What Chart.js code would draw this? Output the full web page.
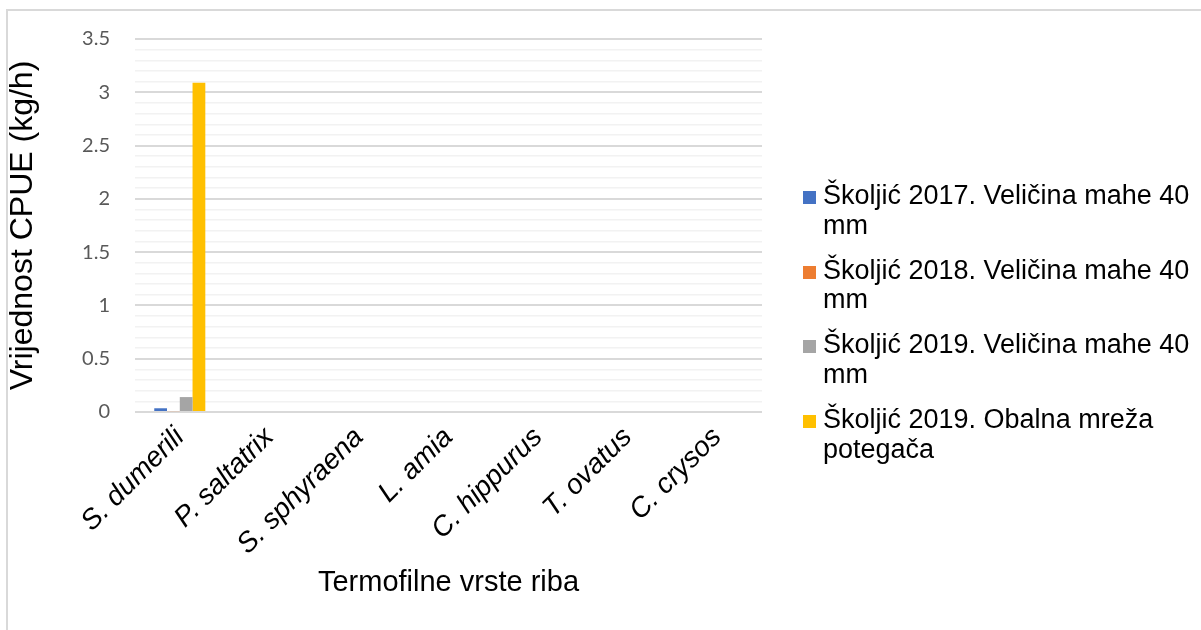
<!DOCTYPE html>
<html lang="hr">
<head>
<meta charset="utf-8">
<title>CPUE termofilnih vrsta</title>
<script src="https://cdn.jsdelivr.net/npm/chart.js@4.4.1/dist/chart.umd.min.js"></script>
<style>
    html, body { margin: 0; padding: 0; background: #fff; }
    #okvir {
        position: relative;
        width: 1201px;
        height: 630px;
        overflow: hidden;
    }
    #rub {
        position: absolute;
        left: 6px;
        top: 9px;
        width: 1300px;
        height: 700px;
        border-left: 2px solid #d9d9d9;
        border-top: 2px solid #d9d9d9;
        pointer-events: none;
    }
    #graf { position: absolute; left: 0; top: 0; }
    #legenda {
        position: absolute;
        left: 803px;
        top: 181px;
        width: 392px;
        font-family: "Liberation Sans", Arial, sans-serif;
        font-size: 27px;
        line-height: 29.5px;
        color: #000;
    }
    .stavka { display: flex; align-items: flex-start; margin-bottom: 15.7px; }
    .kvadrat { width: 13px; height: 13px; margin-top: 10px; margin-right: 7px; flex: none; }
    .tekst { width: 372px; }
</style>
</head>
<body>
<div id="okvir">
    <canvas id="graf" width="1201" height="630"></canvas>
    <div id="legenda"></div>
    <div id="rub"></div>
</div>

<script>
// Termofilne vrste riba i vrijednosti CPUE (kg/h)
const vrste = ['S. dumerili', 'P. saltatrix', 'S. sphyraena', 'L. amia', 'C. hippurus', 'T. ovatus', 'C. crysos'];

const nazivSerija = [
    'Školjić 2017. Veličina mahe 40 mm',
    'Školjić 2018. Veličina mahe 40 mm',
    'Školjić 2019. Veličina mahe 40 mm',
    'Školjić 2019. Obalna mreža potegača'
];

const skoljic2017 = [0.035, 0, 0, 0, 0, 0, 0];
const skoljic2018 = [0.008, 0, 0, 0, 0, 0, 0];
const skoljic2019 = [0.14, 0, 0, 0, 0, 0, 0];
const obalnaMreza2019 = [3.09, 0, 0, 0, 0, 0, 0];

const boje = ['#4472C4', '#ED7D31', '#A5A5A5', '#FFC000'];

// Oznake osi Y (glavne crte svakih 0.5)
const yMin = 0;
const yMax = 3.5;
const yKorak = 0.1;

const vrijednosti = [skoljic2017, skoljic2018, skoljic2019, obalnaMreza2019];

const jeGlavna = v => Math.round(v * 10) % 5 === 0;

const ctx = document.getElementById('graf').getContext('2d');

const graf = new Chart(ctx, {
    type: 'bar',
    data: {
        labels: vrste,
        datasets: vrijednosti.map((d, i) => ({
            label: nazivSerija[i],
            data: d,
            backgroundColor: boje[i],
            borderWidth: 0,
            categoryPercentage: 0.57,
            barPercentage: 1
        }))
    },
    options: {
        responsive: false,
        animation: false,
        layout: { padding: { left: 0, top: 39, right: 439, bottom: 0 } },
        plugins: {
            legend: { display: false },
            tooltip: { enabled: false }
        },
        scales: {
            x: {
                grid: { display: false },
                border: { display: false },
                ticks: {
                    color: '#000',
                    maxRotation: 45,
                    minRotation: 45,
                    padding: 1,
                    font: { family: '"Liberation Sans", Arial, sans-serif', size: 28, style: 'italic' }
                },
                title: {
                    display: true,
                    text: 'Termofilne vrste riba',
                    color: '#000',
                    padding: { top: 0, bottom: 30 },
                    font: { family: '"Liberation Sans", Arial, sans-serif', size: 29 }
                },
                afterFit: s => { s.height = 218; }
            },
            y: {
                min: yMin,
                max: yMax,
                border: { display: false },
                grid: {
                    drawTicks: false,
                    color: c => jeGlavna(c.tick.value) ? '#d9d9d9' : '#f2f2f2',
                    lineWidth: c => jeGlavna(c.tick.value) ? 2 : 1.5
                },
                ticks: {
                    stepSize: yKorak,
                    autoSkip: false,
                    padding: 25,
                    color: '#595959',
                    font: { family: 'Lato, "Open Sans", sans-serif', size: 20 },
                    callback: v => jeGlavna(v) ? String(Math.round(v * 10) / 10) : ''
                },
                title: {
                    display: true,
                    text: 'Vrijednost CPUE (kg/h)',
                    color: '#000',
                    padding: { top: 4, bottom: 0 },
                    font: { family: '"Liberation Sans", Arial, sans-serif', size: 32 }
                },
                afterFit: s => { s.width = 135; }
            }
        }
    }
});

// Legenda s prelamanjem teksta
const legenda = document.getElementById('legenda');
graf.data.datasets.forEach(ds => {
    const stavka = document.createElement('div');
    stavka.className = 'stavka';
    stavka.innerHTML = `<span class="kvadrat" style="background:${ds.backgroundColor}"></span><span class="tekst">${ds.label}</span>`;
    legenda.appendChild(stavka);
});
</script>
</body>
</html>
